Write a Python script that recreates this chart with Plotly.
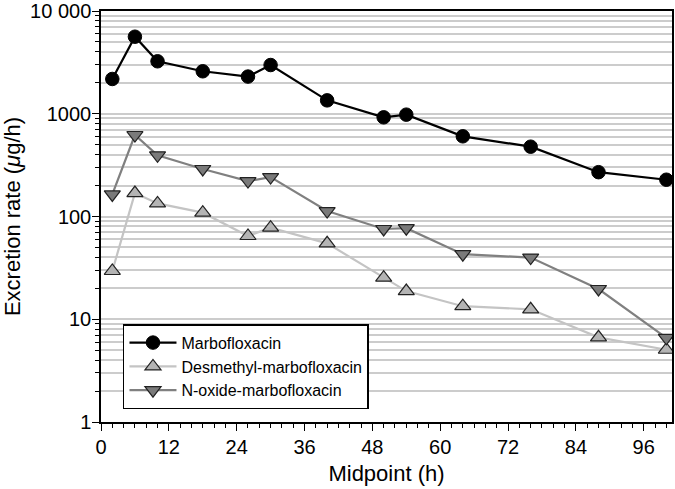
import plotly.graph_objects as go

hours = [2, 6, 10, 18, 26, 30, 40, 50, 54, 64, 76, 88, 100]
marbofloxacin = [2180, 5620, 3240, 2590, 2300, 2980, 1350, 923, 980, 603, 478, 270, 228]
desmethyl = [29.5, 169, 134, 109, 64.6, 77.8, 54.8, 25.4, 18.8, 13.4, 12.5, 6.67, 5.05]
n_oxide = [164, 621, 394, 290, 221, 242, 113, 75.6, 77, 43, 39.8, 19.7, 6.6]

y_tickvals = [1, 10, 100, 1000, 10000]
y_ticktext = ["1", "10", "100", "1000", "10 000"]
x_tickvals = [0, 12, 24, 36, 48, 60, 72, 84, 96]

minor_y = [m * 10 ** d for d in range(4) for m in range(2, 10)]

fig = go.Figure()
fig.add_trace(go.Scatter(
    x=hours, y=marbofloxacin, name="Marbofloxacin", mode="lines+markers",
    line=dict(color="black", width=2.2),
    marker=dict(symbol="circle", size=13.5, color="black", line=dict(color="black", width=1)),
))
fig.add_trace(go.Scatter(
    x=hours, y=desmethyl, name="Desmethyl-marbofloxacin", mode="lines+markers",
    line=dict(color="#c4c4c4", width=2.2),
    marker=dict(symbol="triangle-up", size=14, color="#b4b4b4", line=dict(color="#222222", width=1.2)),
))
fig.add_trace(go.Scatter(
    x=hours, y=n_oxide, name="N-oxide-marbofloxacin", mode="lines+markers",
    line=dict(color="#808080", width=2.2),
    marker=dict(symbol="triangle-down", size=14, color="#7a7a7a", line=dict(color="#222222", width=1.2)),
))

font_family = "Liberation Sans, Arial, sans-serif"

fig.update_layout(
    width=675, height=489,
    margin=dict(l=101, r=3, t=11, b=67, autoexpand=False),
    paper_bgcolor="white", plot_bgcolor="white",
    font=dict(family=font_family, color="black"),
    showlegend=True,
    legend=dict(
        x=0.0385, y=0.238, xanchor="left", yanchor="top",
        bordercolor="black", borderwidth=1.5, bgcolor="white",
        font=dict(size=16, family=font_family),
        tracegroupgap=0, itemwidth=47,
    ),
)

fig.update_xaxes(
    range=[0, 101], tickmode="array", tickvals=x_tickvals,
    ticks="outside", ticklen=7, tickwidth=1.2, tickcolor="black",
    showline=True, linecolor="black", linewidth=1.5, mirror=True,
    showgrid=False, zeroline=False, automargin=False,
    ticklabeloverflow="allow", ticklabelstandoff=-1,
    tickfont=dict(size=20),
    title=dict(text="Midpoint (h)", font=dict(size=22), standoff=9),
    minor=dict(dtick=2, tick0=0, ticks="outside", ticklen=4, tickcolor="black", showgrid=False),
)

fig.update_yaxes(
    type="log", range=[0, 4], tickmode="array", tickvals=y_tickvals, ticktext=y_ticktext,
    ticks="outside", ticklen=7, tickwidth=1.2, tickcolor="black",
    showline=True, linecolor="black", linewidth=1.5, mirror=True,
    showgrid=True, gridcolor="#cccccc", gridwidth=1.5, zeroline=False, automargin=False,
    ticklabeloverflow="allow", ticklabelstandoff=-3,
    tickfont=dict(size=20),
    title=dict(text="Excretion rate (<i>μ</i>g/h)", font=dict(size=22), standoff=4),
    minor=dict(tickmode="array", tickvals=minor_y, ticks="outside", ticklen=4,
               tickcolor="black", showgrid=True, gridcolor="#cccccc", gridwidth=1.5),
)

fig.write_html("out.html", config={"displayModeBar": False},
               post_script="document.body.style.margin='0px';")
